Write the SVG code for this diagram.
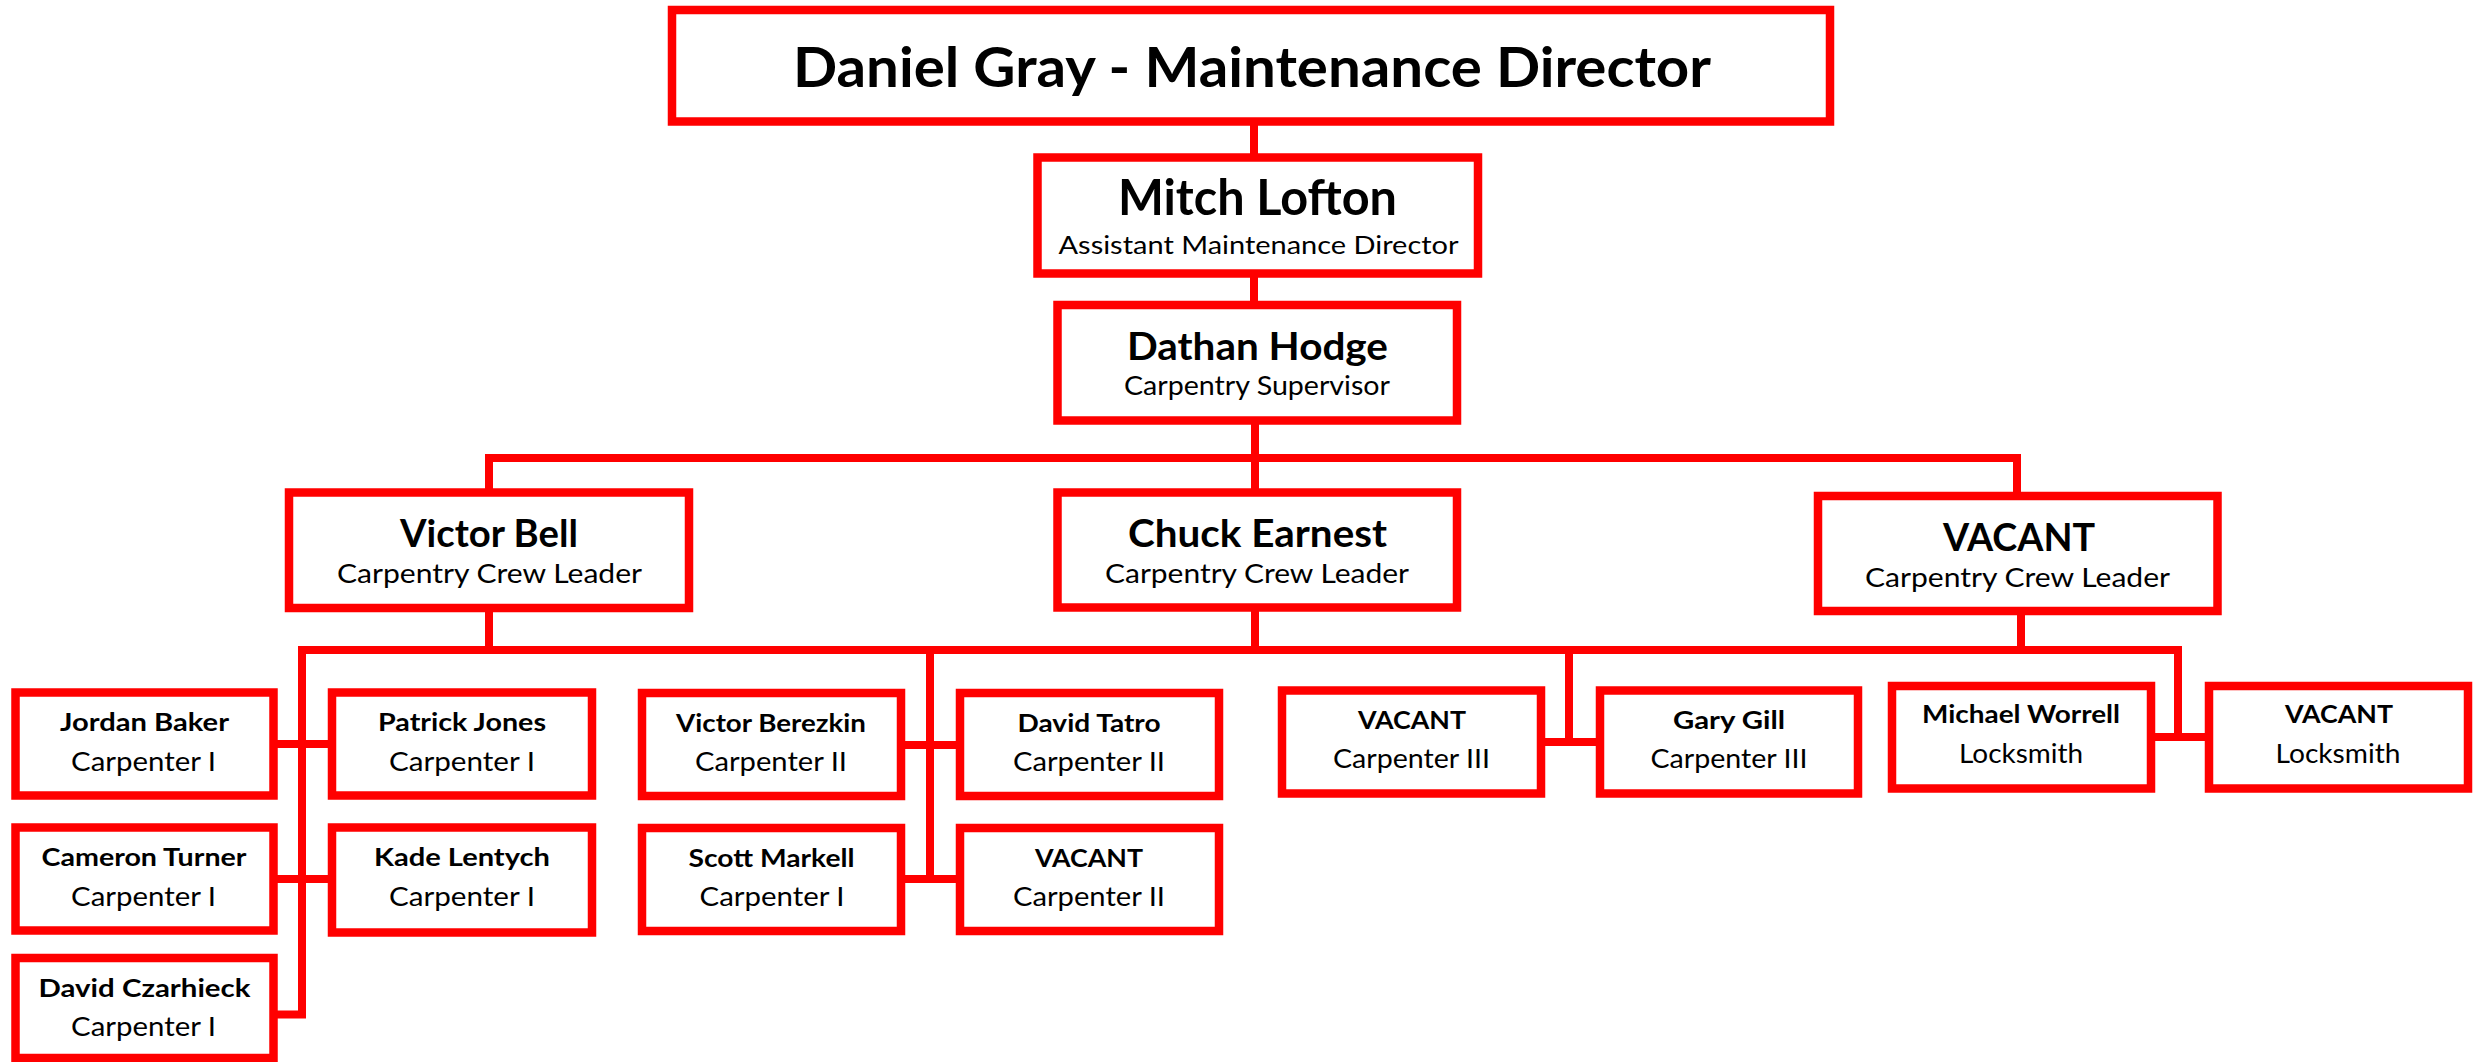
<svg xmlns="http://www.w3.org/2000/svg" width="2484" height="1062" viewBox="0 0 2484 1062">
<style>
.box{fill:#fff;stroke:#ff0000;stroke-width:8.5}
.ln{fill:none;stroke:#ff0000;stroke-width:8;stroke-linejoin:miter;stroke-linecap:butt}
text{font-family:Lato,"DejaVu Sans","Liberation Sans",sans-serif;fill:#000;text-anchor:middle}
.n{font-weight:bold}
.t0{font-size:56px}
.t1{font-size:49px}
.t2{font-size:38px}
.s1{font-size:25.5px}
.s2{font-size:26.5px}
.c{font-size:25.5px}
</style>
<rect width="2484" height="1062" fill="#fff"/>
<g id="connectors">
<path class="ln" d="M1254,121 V158"/>
<path class="ln" d="M1254,273 V305"/>
<path class="ln" d="M1255,420 V493"/>
<path class="ln" d="M489,493 V458 H2017 V496"/>
<path class="ln" d="M489,608 V650"/>
<path class="ln" d="M1255,608 V650"/>
<path class="ln" d="M2021,611 V650"/>
<path class="ln" d="M274,1014.5 H302 V650 H2178 V741"/>
<path class="ln" d="M930,650 V883"/>
<path class="ln" d="M1569,650 V746"/>
<path class="ln" d="M274,744 H332"/>
<path class="ln" d="M274,879 H332"/>
<path class="ln" d="M901,745 H960"/>
<path class="ln" d="M901,879 H960"/>
<path class="ln" d="M1541,742 H1600"/>
<path class="ln" d="M2151,737 H2209"/>
</g>
<g id="n-daniel">
<rect class="box" x="672" y="10" width="1158" height="111.5"/>
<text class="n t0" x="1252" y="87" textLength="918" lengthAdjust="spacingAndGlyphs">Daniel Gray - Maintenance Director</text>
</g>
<g id="n-mitch">
<rect class="box" x="1037.5" y="157.5" width="440.5" height="116"/>
<text class="n t1" x="1257.5" y="215" textLength="279" lengthAdjust="spacingAndGlyphs">Mitch Lofton</text>
<text class="s1" x="1258.5" y="254" textLength="400" lengthAdjust="spacingAndGlyphs">Assistant Maintenance Director</text>
</g>
<g id="n-dathan">
<rect class="box" x="1057.5" y="305" width="399.5" height="115.5"/>
<text class="n t2" x="1257.5" y="360" textLength="261" lengthAdjust="spacingAndGlyphs">Dathan Hodge</text>
<text class="s2" x="1257" y="395" textLength="266" lengthAdjust="spacingAndGlyphs">Carpentry Supervisor</text>
</g>
<g id="n-victor-bell">
<rect class="box" x="289" y="492.5" width="400" height="115.5"/>
<text class="n t2" x="489" y="547" textLength="178" lengthAdjust="spacingAndGlyphs">Victor Bell</text>
<text class="s2" x="489.5" y="583" textLength="305" lengthAdjust="spacingAndGlyphs">Carpentry Crew Leader</text>
</g>
<g id="n-chuck">
<rect class="box" x="1057.5" y="492.5" width="399.5" height="115"/>
<text class="n t2" x="1257.5" y="547" textLength="259" lengthAdjust="spacingAndGlyphs">Chuck Earnest</text>
<text class="s2" x="1257" y="583" textLength="304" lengthAdjust="spacingAndGlyphs">Carpentry Crew Leader</text>
</g>
<g id="n-vacant-leader">
<rect class="box" x="1818" y="496" width="399.5" height="115"/>
<text class="n t2" x="2019" y="550.7" textLength="152" lengthAdjust="spacingAndGlyphs">VACANT</text>
<text class="s2" x="2017.5" y="586.7" textLength="305" lengthAdjust="spacingAndGlyphs">Carpentry Crew Leader</text>
</g>
<g id="n-jordan">
<rect class="box" x="15.5" y="692.5" width="258" height="103"/>
<text class="n c" x="144.5" y="730.7" textLength="169" lengthAdjust="spacingAndGlyphs">Jordan Baker</text>
<text class="s2" x="143.5" y="771" textLength="145" lengthAdjust="spacingAndGlyphs">Carpenter I</text>
</g>
<g id="n-patrick">
<rect class="box" x="332" y="692.5" width="260" height="103"/>
<text class="n c" x="462" y="730.7" textLength="168" lengthAdjust="spacingAndGlyphs">Patrick Jones</text>
<text class="s2" x="462" y="771" textLength="146" lengthAdjust="spacingAndGlyphs">Carpenter I</text>
</g>
<g id="n-cameron">
<rect class="box" x="15.5" y="827.5" width="258" height="103"/>
<text class="n c" x="144" y="865.7" textLength="205" lengthAdjust="spacingAndGlyphs">Cameron Turner</text>
<text class="s2" x="143.5" y="905.7" textLength="145" lengthAdjust="spacingAndGlyphs">Carpenter I</text>
</g>
<g id="n-kade">
<rect class="box" x="332" y="827.5" width="260" height="105"/>
<text class="n c" x="462" y="865.7" textLength="176" lengthAdjust="spacingAndGlyphs">Kade Lentych</text>
<text class="s2" x="462" y="905.7" textLength="146" lengthAdjust="spacingAndGlyphs">Carpenter I</text>
</g>
<g id="n-david-c">
<rect class="box" x="15.5" y="958" width="258" height="100"/>
<text class="n c" x="144.5" y="996.7" textLength="212" lengthAdjust="spacingAndGlyphs">David Czarhieck</text>
<text class="s2" x="143.5" y="1035.7" textLength="145" lengthAdjust="spacingAndGlyphs">Carpenter I</text>
</g>
<g id="n-berezkin">
<rect class="box" x="642" y="693" width="259" height="103"/>
<text class="n c" x="771" y="731.7" textLength="190" lengthAdjust="spacingAndGlyphs">Victor Berezkin</text>
<text class="s2" x="771" y="771" textLength="152" lengthAdjust="spacingAndGlyphs">Carpenter II</text>
</g>
<g id="n-tatro">
<rect class="box" x="960" y="693" width="259" height="103"/>
<text class="n c" x="1089" y="731.7" textLength="143" lengthAdjust="spacingAndGlyphs">David Tatro</text>
<text class="s2" x="1089" y="771" textLength="152" lengthAdjust="spacingAndGlyphs">Carpenter II</text>
</g>
<g id="n-markell">
<rect class="box" x="642" y="828" width="259" height="103"/>
<text class="n c" x="771.5" y="866.7" textLength="166" lengthAdjust="spacingAndGlyphs">Scott Markell</text>
<text class="s2" x="772" y="905.7" textLength="145" lengthAdjust="spacingAndGlyphs">Carpenter I</text>
</g>
<g id="n-vacant-c2">
<rect class="box" x="960" y="828" width="259" height="103"/>
<text class="n c" x="1089" y="866.7" textLength="108" lengthAdjust="spacingAndGlyphs">VACANT</text>
<text class="s2" x="1089" y="905.7" textLength="152" lengthAdjust="spacingAndGlyphs">Carpenter II</text>
</g>
<g id="n-vacant-c3">
<rect class="box" x="1282" y="690.5" width="259" height="103"/>
<text class="n c" x="1412" y="729" textLength="108" lengthAdjust="spacingAndGlyphs">VACANT</text>
<text class="s2" x="1411.5" y="768" textLength="157" lengthAdjust="spacingAndGlyphs">Carpenter III</text>
</g>
<g id="n-gill">
<rect class="box" x="1600" y="690.5" width="258" height="103"/>
<text class="n c" x="1729" y="729" textLength="112" lengthAdjust="spacingAndGlyphs">Gary Gill</text>
<text class="s2" x="1729" y="768" textLength="157" lengthAdjust="spacingAndGlyphs">Carpenter III</text>
</g>
<g id="n-worrell">
<rect class="box" x="1892" y="686" width="259" height="102.5"/>
<text class="n c" x="2021" y="723" textLength="198" lengthAdjust="spacingAndGlyphs">Michael Worrell</text>
<text class="s2" x="2021" y="762.5" textLength="124" lengthAdjust="spacingAndGlyphs">Locksmith</text>
</g>
<g id="n-vacant-lock">
<rect class="box" x="2209" y="686" width="259" height="102.5"/>
<text class="n c" x="2339" y="723" textLength="108" lengthAdjust="spacingAndGlyphs">VACANT</text>
<text class="s2" x="2338" y="762.5" textLength="125" lengthAdjust="spacingAndGlyphs">Locksmith</text>
</g>
</svg>
